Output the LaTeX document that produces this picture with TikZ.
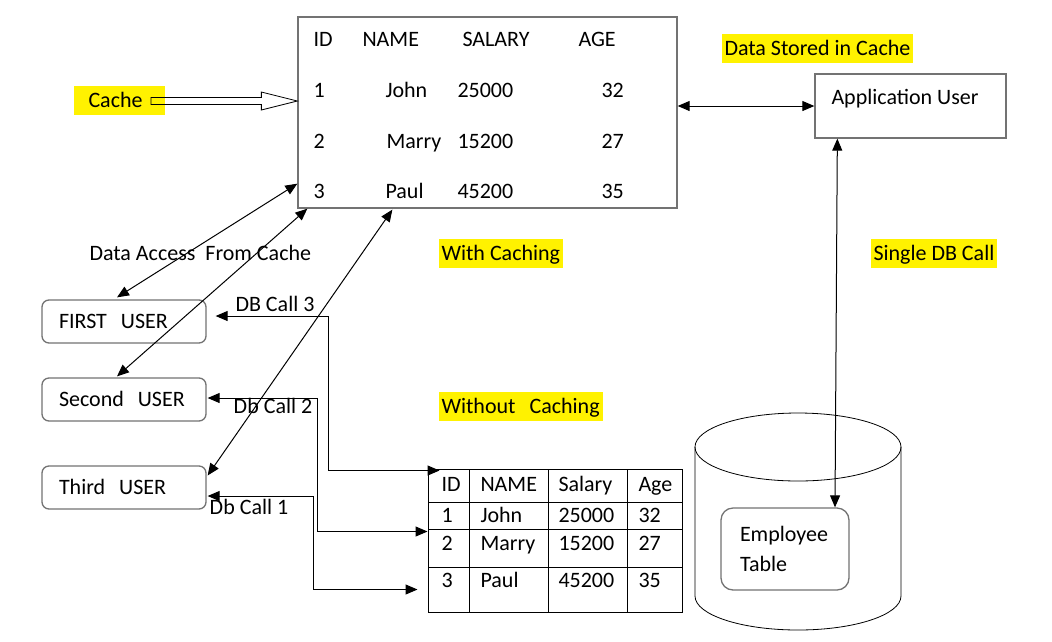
\documentclass[tikz,border=0pt]{standalone}
\usepackage{fontspec}
\setmainfont{Carlito}
\usetikzlibrary{positioning, calc, arrows.meta}

\begin{document}
\begin{tikzpicture}[
  x=1pt, y=-1pt,
  every node/.style={font=\fontsize{22}{26}\selectfont, inner sep=0pt},
  txt/.style={text height=14pt, text depth=0pt},
  lft/.style={txt, anchor=west},
  hl/.style={lft, fill=yellow, inner xsep=3pt, inner ysep=7.5pt},
  userbox/.style={txt, draw=gray!90!black, line width=1.3pt, rounded corners=7pt,
    text width=130pt, inner xsep=17pt, minimum height=43pt, align=left},
  frame/.style={draw=gray!90!black, line width=1.3pt},
  >={Triangle[length=12pt,width=10pt]}, line width=1pt
]
  \fill[white] (0,0) rectangle (1052,641);
  \useasboundingbox (0,0) rectangle (1052,641);

  % cached table
  \node[frame, minimum width=379pt, minimum height=191pt] (cachetbl) at (487.5,112.5) {};
  \node[lft] (hid)   at (313,39) {ID};
  \node[lft] (hname) at (362,39) {NAME};
  \node[lft] (hsal)  at (462,39) {SALARY};
  \node[lft] (hage)  at (578,39) {AGE};
  \node[lft] (id1)  at (313,90) {1};
  \node[lft] (nm1)  at (385,90) {John};
  \node[lft] (sal1) at (457,90) {25000};
  \node[lft] (age1) at (601,90) {32};
  \node[lft] (id2)  at (313,141) {2};
  \node[lft] (nm2)  at (386,141) {Marry};
  \node[lft] (sal2) at (457,141) {15200};
  \node[lft] (age2) at (601,141) {27};
  \node[lft] (id3)  at (313,191) {3};
  \node[lft] (nm3)  at (385,191) {Paul};
  \node[lft] (sal3) at (457,191) {45200};
  \node[lft] (age3) at (601,191) {35};

  % cache label and hollow arrow
  \node[hl, inner xsep=15pt, text width=61pt, align=left] (cachelbl) at (73,100) {Cache};
  \coordinate (tail) at (151,101);
  \coordinate (tip) at (cachetbl.west |- tail);
  \draw[line width=0.8pt] ($(tail)+(0,-3.5)$) -- ($(tip)+(-36,-3.5)$) -- ($(tip)+(-36,-9)$)
    -- (tip) -- ($(tip)+(-36,9)$) -- ($(tip)+(-36,3.5)$) -- ($(tail)+(0,3.5)$) -- cycle;

  % application user
  \node[hl] (stored) at (721,48) {Data Stored in Cache};
  \node[frame, minimum width=191pt, minimum height=64pt] (appuser) at (910.5,106) {};
  \node[lft] (applbl) at (831,97) {Application User};
  \draw[<->] (cachetbl.east |- appuser.west) -- (appuser.west);

  \node[hl] (withc) at (438,253) {With Caching};
  \node[hl] (single) at (870,253) {Single DB Call};
  \node[lft] (access) at (89,253) {Data Access\ \ From Cache};
  \node[hl] (without) at (438,406) {Without\hspace{14pt}Caching};

  % users
  \node[userbox] (u1) at (124,321.5) {FIRST\hspace{14pt}USER};
  \node[userbox] (u2) at (124,399.5) {Second\hspace{14pt}USER};
  \node[userbox] (u3) at (124,487.5) {Third\hspace{14pt}USER};

  \draw[<->] ($(cachetbl.south west)+(0,-25)$) -- ($(u1.north)+(-7,-2)$);
  \draw[<->] ($(cachetbl.south west)+(10,0)$) -- ($(u2.north)+(-7,-1)$);
  \draw[<->] ($(cachetbl.south west)+(95,1)$) -- ($(u3.east)+(1,-12)$);

  % employee table without caching
  \node[draw, minimum width=254pt, minimum height=143pt] (dbtbl) at (555,540.5) {};
  \foreach \cx in {469,548,627} \draw (\cx,469) -- (\cx,612);
  \foreach \ry in {502,529,567} \draw (428,\ry) -- (682,\ry);
  \node[lft] (tid)   at (441,484) {ID};
  \node[lft] (tname) at (480,484) {NAME};
  \node[lft] (tsal)  at (558,484) {Salary};
  \node[lft] (tage)  at (638,484) {Age};
  \node[lft] (tid1)  at (441,515) {1};
  \node[lft] (tnm1)  at (480,515) {John};
  \node[lft] (tsal1) at (558,515) {25000};
  \node[lft] (tage1) at (638,515) {32};
  \node[lft] (tid2)  at (441,543) {2};
  \node[lft] (tnm2)  at (480,543) {Marry};
  \node[lft] (tsal2) at (558,543) {15200};
  \node[lft] (tage2) at (638,543) {27};
  \node[lft] (tid3)  at (441,580) {3};
  \node[lft] (tnm3)  at (480,580) {Paul};
  \node[lft] (tsal3) at (558,580) {45200};
  \node[lft] (tage3) at (638,580) {35};

  \coordinate (db3) at ($(dbtbl.north west)+(12,2)$);
  \coordinate (db2) at ($(dbtbl.north west)+(0,63)$);
  \coordinate (db1) at ($(dbtbl.north west)+(-10,121)$);
  \draw[<->] ($(u1.east)+(9,-5.5)$) -- ++(113,0) |- (db3);
  \draw[<->] ($(u2.east)+(1,-1.5)$) -- ++(110,0) |- (db2);
  \draw[<->] ($(u3.east)+(1,8.5)$) -- ++(106,0) |- (db1);
  \node[txt] (call3) at (275,304) {DB Call 3};
  \node[txt] (call2) at (273,406) {Db Call 2};
  \node[txt] (call1) at (249,507) {Db Call 1};

  % database cylinder
  \draw[line width=0.8pt] (798,447) ellipse[x radius=103, y radius=34];
  \draw[line width=0.8pt] (695,447) -- (695,596) arc[start angle=180, end angle=0, x radius=103, y radius=34] -- (901,447);
  \node[frame, rounded corners=12pt, minimum width=128pt, minimum height=82pt,
    text width=90pt, inner xsep=19pt, align=left, font=\fontsize{22}{30}\selectfont] (emp) at (785,549) {Employee\\Table};
  \draw[<->] ($(appuser.south west)+(23,0)$) -- ($(emp.north)+(50,0)$);
\end{tikzpicture}
\end{document}
